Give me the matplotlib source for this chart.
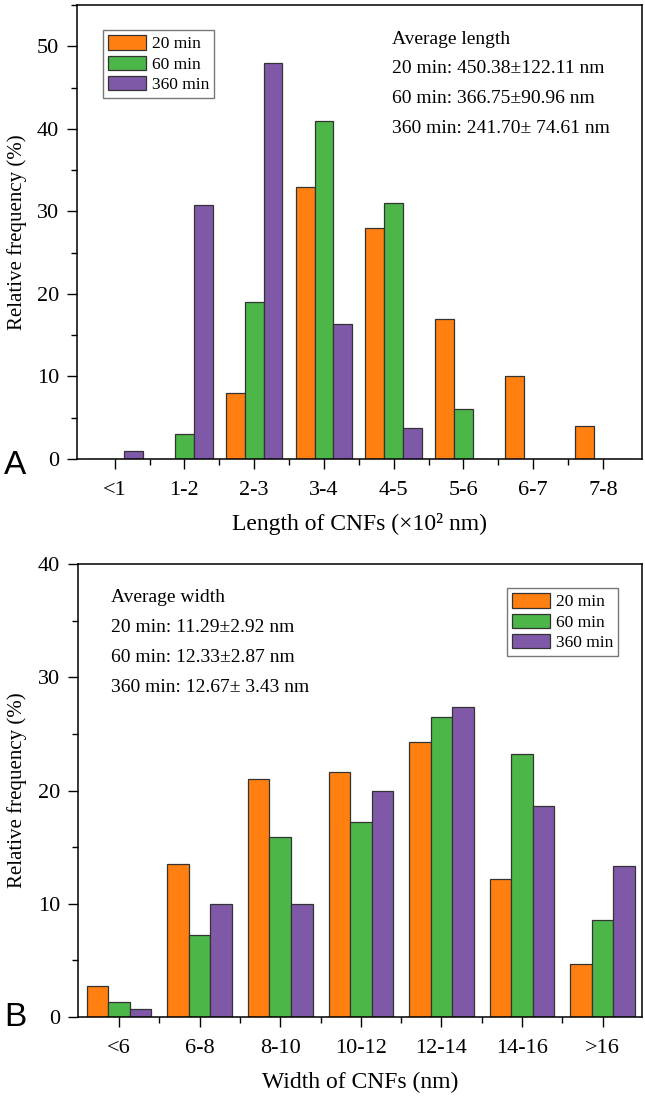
import matplotlib
matplotlib.use("Agg")
import matplotlib.pyplot as plt
from matplotlib.ticker import MultipleLocator
import numpy as np

# ---- data ----
length_bins = ["<1", "1-2", "2-3", "3-4", "4-5", "5-6", "6-7", "7-8"]
length_20 = [0, 0, 8, 33, 28, 17, 10, 4]
length_60 = [0, 3, 19, 41, 31, 6, 0, 0]
length_360 = [1, 30.8, 48, 16.4, 3.8, 0, 0, 0]

width_bins = ["<6", "6-8", "8-10", "10-12", "12-14", "14-16", ">16"]
width_20 = [2.7, 13.5, 21.0, 21.6, 24.3, 12.2, 4.7]
width_60 = [1.33, 7.28, 15.9, 17.2, 26.5, 23.2, 8.6]
width_360 = [0.67, 10.0, 10.0, 20.0, 27.33, 18.67, 13.33]

series_names = ["20 min", "60 min", "360 min"]
colors = ["#FF8010", "#4CB648", "#7F59A8"]

length_notes = ["Average length",
                "20 min: 450.38\u00b1122.11 nm",
                "60 min: 366.75\u00b190.96 nm",
                "360 min: 241.70\u00b1 74.61 nm"]
width_notes = ["Average width",
               "20 min: 11.29\u00b12.92 nm",
               "60 min: 12.33\u00b12.87 nm",
               "360 min: 12.67\u00b1 3.43 nm"]

plt.rcParams["font.family"] = ["Liberation Serif", "DejaVu Serif"]

W, H = 645, 1098
fig = plt.figure(figsize=(W / 100, H / 100), dpi=100)


def px_axes(left, top, right, bottom):
    return fig.add_axes([left / W, 1 - bottom / H, (right - left) / W, (bottom - top) / H])


def grouped_bars(ax, cats, groups, bw):
    x = np.arange(len(cats))
    for k, (vals, c, name) in enumerate(zip(groups, colors, series_names)):
        ax.bar(x + (k - 1) * bw, vals, width=bw, color=c, edgecolor="#333333",
               linewidth=0.9, label=name)
    ax.set_xticks(x)
    ax.set_xticklabels(cats)
    ax.set_xticks(x[:-1] + 0.5, minor=True)
    ax.yaxis.set_major_locator(MultipleLocator(10))
    ax.yaxis.set_minor_locator(MultipleLocator(5))
    ax.tick_params(which="major", direction="out", length=7, width=1.0,
                   labelsize=16, top=False, right=False, pad=6)
    ax.tick_params(which="minor", direction="out", length=4, width=1.0,
                   top=False, right=False)
    ax.tick_params(axis="x", which="major", pad=9)
    for s in ax.spines.values():
        s.set_linewidth(1.1)
    ax.set_ylabel("Relative frequency (%)", fontsize=15)


def add_legend(ax, x0, y0):
    leg = ax.legend(loc="upper left", bbox_to_anchor=(x0 / W, 1 - y0 / H),
                    bbox_transform=fig.transFigure, fontsize=12.5, frameon=True,
                    fancybox=False, borderaxespad=0, borderpad=0.3,
                    handlelength=2.2, handleheight=0.9, labelspacing=0.18,
                    handletextpad=0.3)
    leg.get_frame().set_edgecolor("#555555")
    leg.get_frame().set_linewidth(1.0)


# ---- panel A ----
ax1 = px_axes(77, 5, 642, 459)
grouped_bars(ax1, length_bins, [length_20, length_60, length_360], 0.27)
ax1.set_xlim(-0.54, 7.56)
ax1.set_ylim(0, 55)
ax1.set_xlabel("Length of CNFs (\u00d710\u00b2 nm)", fontsize=17)
ax1.xaxis.set_label_coords(0.5, -0.119)
ax1.yaxis.set_label_coords(-0.088, 0.5)
add_legend(ax1, 103, 30)
for i, t in enumerate(length_notes):
    fig.text(392 / W, 1 - (39 + 29.7 * i) / H, t, fontsize=14, va="center", ha="left")
fig.text(15 / W, 1 - 465 / H, "A", fontsize=24, family="Liberation Sans",
         ha="center", va="center")

# ---- panel B ----
ax2 = px_axes(78, 564, 642, 1017)
grouped_bars(ax2, width_bins, [width_20, width_60, width_360], 0.267)
ax2.set_xlim(-0.51, 6.49)
ax2.set_ylim(0, 40)
ax2.set_xlabel("Width of CNFs (nm)", fontsize=17)
ax2.xaxis.set_label_coords(0.5, -0.121)
ax2.yaxis.set_label_coords(-0.09, 0.5)
add_legend(ax2, 507, 588)
for i, t in enumerate(width_notes):
    fig.text(111 / W, 1 - (598 + 29.7 * i) / H, t, fontsize=14, va="center", ha="left")
fig.text(15 / W, 1 - 1018 / H, "B", fontsize=24, family="Liberation Sans",
         ha="center", va="center")

fig.savefig("out.png", dpi=100)
